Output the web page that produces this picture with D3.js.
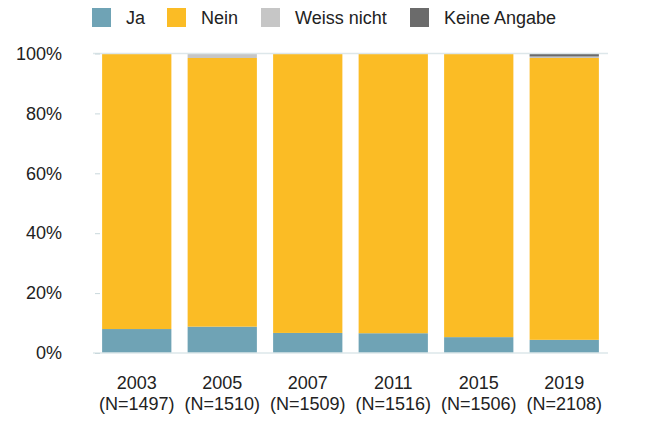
<!DOCTYPE html>
<html>
<head>
<meta charset="utf-8">
<script src="https://cdn.jsdelivr.net/npm/d3@7"></script>
<style>
  body { margin: 0; background: #fff; }
  text { font-family: "Liberation Sans", Arial, sans-serif; fill: #222; }
</style>
</head>
<body>
<div id="chart"></div>
<script>
var years = ["2003", "2005", "2007", "2011", "2015", "2019"];
var counts = ["(N=1497)", "(N=1510)", "(N=1509)", "(N=1516)", "(N=1506)", "(N=2108)"];
var keys = ["Ja", "Nein", "Weiss nicht", "Keine Angabe"];
var colors = ["#6fa3b5", "#fbbc25", "#c6c6c6", "#6b6b6b"];
var ja = [8.0, 8.8, 6.7, 6.6, 5.3, 4.4];
var nein = [92.0, 89.7, 93.3, 93.4, 94.7, 94.1];
var weissNicht = [0, 1.5, 0, 0, 0, 0.5];
var keineAngabe = [0, 0, 0, 0, 0, 1.0];
var yTicks = [0, 20, 40, 60, 80, 100];

var width = 654, height = 422;
var svg = d3.select("#chart").append("svg").attr("width", width).attr("height", height);

var rows = years.map(function(y, i) {
  return { year: y, "Ja": ja[i], "Nein": nein[i], "Weiss nicht": weissNicht[i], "Keine Angabe": keineAngabe[i] };
});
var stack = d3.stack().keys(keys)(rows);

var x = d3.scaleBand().domain(years).range([94, 607]).paddingInner(0.19).paddingOuter(0.095);
var y = d3.scaleLinear().domain([0, 100]).range([353, 53.5]);
var color = d3.scaleOrdinal().domain(keys).range(colors);

// bars
svg.append("g").selectAll("g").data(stack).join("g")
  .attr("fill", function(d) { return color(d.key); })
  .selectAll("rect").data(function(d) { return d; }).join("rect")
  .attr("x", function(d) { return x(d.data.year); })
  .attr("width", x.bandwidth())
  .attr("y", function(d) { return y(d[1]); })
  .attr("height", function(d) { return y(d[0]) - y(d[1]); });

// lines at 0% and 100%
[0, 100].forEach(function(v) {
  svg.append("line")
    .attr("x1", 93).attr("x2", 608)
    .attr("y1", y(v)).attr("y2", y(v))
    .attr("stroke", "#dde7ea").attr("stroke-width", 1.5);
});

// y axis
var yAxis = svg.append("g").attr("transform", "translate(100,0)")
  .call(d3.axisLeft(y).tickValues(yTicks).tickSize(5).tickPadding(33)
    .tickFormat(function(d) { return d + "%"; }));
yAxis.select(".domain").remove();
yAxis.selectAll(".tick line").attr("stroke", "#c9d8dc");
yAxis.selectAll(".tick text").attr("font-size", 18).attr("fill", "#222")
  .attr("font-family", "Liberation Sans, Arial, sans-serif");

// x labels
var xl = svg.append("g").selectAll("text").data(years).join("text")
  .attr("x", function(d) { return x(d) + x.bandwidth() / 2; })
  .attr("y", 389)
  .attr("text-anchor", "middle")
  .attr("font-size", 18);
xl.append("tspan").text(function(d) { return d; });
xl.append("tspan")
  .attr("x", function(d) { return x(d) + x.bandwidth() / 2; })
  .attr("dy", 20.5)
  .text(function(d, i) { return counts[i]; });

// legend
var legX = [92, 167, 261, 410];
var leg = svg.append("g").selectAll("g").data(keys).join("g")
  .attr("transform", function(d, i) { return "translate(" + legX[i] + ",8)"; });
leg.append("rect").attr("width", 19).attr("height", 19)
  .attr("fill", function(d) { return color(d); });
leg.append("text").attr("x", 34).attr("y", 16).attr("font-size", 18)
  .text(function(d) { return d; });
</script>
</body>
</html>
